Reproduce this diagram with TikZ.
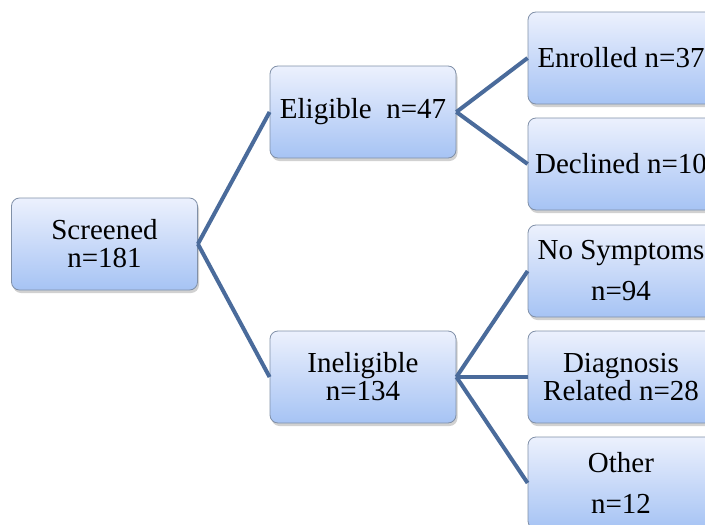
\documentclass[tikz,border=0pt]{standalone}
\usepackage{fontspec}
\setmainfont{Liberation Serif}
\usetikzlibrary{shadows}
\definecolor{linkblue}{HTML}{4A6B9B}
\definecolor{boxtop}{HTML}{ECF1FD}
\definecolor{boxbot}{HTML}{A6C3F4}
\definecolor{boxedge}{HTML}{8090A8}
\tikzset{
  stagebox/.style={draw=boxedge, line width=0.8pt, rounded corners=8pt,
    top color=boxtop, bottom color=boxbot,
    minimum width=186pt, minimum height=92pt, inner sep=0pt, align=center,
    font=\fontsize{29}{28}\selectfont,
    drop shadow={shadow xshift=1.5pt, shadow yshift=-3pt, opacity=0.3, fill=black!60}},
  link/.style={draw=linkblue, line width=4pt}
}
\begin{document}
\begin{tikzpicture}[x=1pt,y=-1pt]
\useasboundingbox (0,0) rectangle (705,525);
\clip (0,0) rectangle (705,525);
% boxes
\node[stagebox] (scr) at (104.5,244) {Screened\\n=181};
\node[stagebox] (eli) at (363,112) {Eligible\ \ n=47};
\node[stagebox] (ine) at (363,377) {Ineligible\\n=134};
\node[stagebox] (enr) at (621,58) {Enrolled n=37};
\node[stagebox] (dec) at (621,164) {Declined n=10};
\node[stagebox] (nos) at (621,271) {No Symptoms\\[13pt]n=94};
\node[stagebox] (dia) at (621,377) {Diagnosis\\Related n=28};
\node[stagebox] (oth) at (621,483) {Other\\[13pt]n=12};
% connectors
\draw[link] (scr.east) -- (eli.west);
\draw[link] (scr.east) -- (ine.west);
\draw[link] (eli.east) -- (enr.west);
\draw[link] (eli.east) -- (dec.west);
\draw[link] (ine.east) -- (nos.west);
\draw[link] (ine.east) -- (dia.west);
\draw[link] (ine.east) -- (oth.west);
\end{tikzpicture}
\end{document}
